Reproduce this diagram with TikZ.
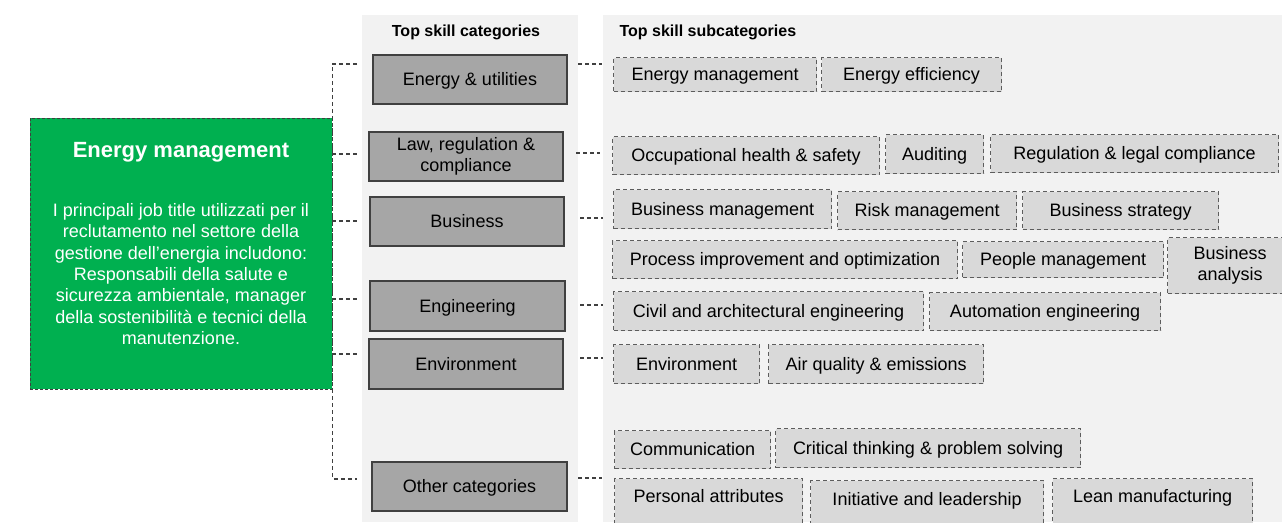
\documentclass[tikz,border=0pt]{standalone}
\usepackage{fontspec}
\setmainfont{Liberation Sans}
\usetikzlibrary{positioning}

\definecolor{panelgray}{HTML}{F2F2F2}
\definecolor{catgray}{HTML}{A6A6A6}
\definecolor{subgray}{HTML}{D9D9D9}
\definecolor{linegray}{HTML}{404040}
\definecolor{emgreen}{HTML}{00B050}

\tikzset{
  panel/.style={fill=panelgray,draw=none},
  catbox/.style={draw=linegray,line width=1.6pt,fill=catgray,align=center,
    inner sep=0pt,minimum width=194,minimum height=49,
    text height=15,text depth=3,
    font=\fontsize{18}{21}\selectfont},
  subbox/.style={draw=linegray!85,line width=1.1pt,dash pattern=on 4pt off 3pt,
    fill=subgray,align=center,inner sep=0pt,anchor=north west,
    text height=15,text depth=3,
    font=\fontsize{18}{21}\selectfont},
  conn/.style={draw=linegray,line width=1.1pt,dash pattern=on 4pt off 3pt},
  coltitle/.style={font=\fontsize{16}{19}\selectfont\bfseries},
  twolines/.style={text height=,text depth=},
}

\newcommand{\setupLinks}{
    \coordinate (l1) at (357,64);   % left side of each category
    \coordinate (l2) at (360,154);
    \coordinate (l3) at (357,221);
    \coordinate (l4) at (358,299);
    \coordinate (l5) at (358,354);
    \coordinate (l6) at (357,479);

    \coordinate (ra1) at (578,64);  % right side, towards subcategories
    \coordinate (rb1) at (602,64);
    \coordinate (ra2) at (576,153);
    \coordinate (rb2) at (600,153);
    \coordinate (ra3) at (580,218);
    \coordinate (rb3) at (603,218);
    \coordinate (ra4) at (580,305);
    \coordinate (rb4) at (603,305);
    \coordinate (ra5) at (580,358);
    \coordinate (rb5) at (603,358);
    \coordinate (ra6) at (578,478);
    \coordinate (rb6) at (602,478);
}
% name, left, top, right, bottom, text
\newcommand{\subBox}[6]{
  \node[subbox,minimum width=#4-#2,minimum height=#5-#3] (#1) at (#2,#3) {#6};
}

\begin{document}
\begin{tikzpicture}[x=1pt,y=-1pt]
    \useasboundingbox (0,0) rectangle (1282,522);
    \clip (0,0) rectangle (1282,522);
    \setupLinks;

    \fill[panel] (362,15) rectangle (578,522); % categories column
    \fill[panel] (603,15) rectangle (1282,522); % subcategories column

    \node[coltitle] (cattitle) at (466,32) {Top skill categories};
    \node[coltitle,anchor=west] (subtitle) at (616,32) {Top skill subcategories};

    % green job box
    \node[draw=linegray,fill=emgreen,line width=0.9pt,dash pattern=on 3pt off 2pt,
          minimum width=302,minimum height=271] (em) at (181,253.5) {};
    \node[text=white,font=\fontsize{22}{26}\selectfont\bfseries] (emtitle) at (181,152) {Energy management};
    \node[text=white,align=center,font=\fontsize{18}{21.4}\selectfont] (emtext) at (181,274)
      {I principali job title utilizzati per il\\
       reclutamento nel settore della\\
       gestione dell'energia includono:\\
       Responsabili della salute e\\
       sicurezza ambientale, manager\\
       della sostenibilità e tecnici della\\
       manutenzione.};

    % categories
    \node[catbox] (cat1) at (470,79.5) {Energy \& utilities};
    \node[catbox,twolines] (cat2) at (466,156.5) {Law, regulation \&\\compliance};
    \node[catbox] (cat3) at (467,221.5) {Business};
    \node[catbox,minimum width=195,minimum height=50] (cat4) at (467.5,306) {Engineering};
    \node[catbox,minimum height=50] (cat5) at (466,364) {Environment};
    \node[catbox,minimum width=195] (cat6) at (469.5,486.5) {Other categories};

    % links from the job box
    \draw[conn] (l1) -- (l1 -| em.east) -- (l6 -| em.east) -- (l6);
    \draw[conn] (l2 -| em.east) -- (l2);
    \draw[conn] (l3 -| em.east) -- (l3);
    \draw[conn] (l4 -| em.east) -- (l4);
    \draw[conn] (l5 -| em.east) -- (l5);

    % links to subcategories
    \foreach \i in {1,...,6}{
      \draw[conn] (ra\i) -- (rb\i);
    }

    % subcategories
    \subBox{s1a}{613}{57}{816}{91}{Energy management}
    \subBox{s1b}{821}{57}{1001}{91}{Energy efficiency}

    \subBox{s2a}{612}{136}{879}{174}{Occupational health \& safety}
    \subBox{s2b}{885}{134}{983}{173}{Auditing}
    \subBox{s2c}{990}{134}{1278}{172}{Regulation \& legal compliance}

    \subBox{s3a}{613}{189}{831}{228}{Business management}
    \subBox{s3b}{837}{191}{1016}{229}{Risk management}
    \subBox{s3c}{1022}{191}{1218}{229}{Business strategy}

    \subBox{s4a}{612}{240}{957}{278}{Process improvement and optimization}
    \subBox{s4b}{962}{241}{1163}{277}{People management}
    \node[subbox,twolines,minimum width=125,minimum height=56] (s4c) at (1167,237) {Business\\analysis};

    \subBox{s5a}{613}{291}{923}{330}{Civil and architectural engineering}
    \subBox{s5b}{929}{292}{1160}{330}{Automation engineering}

    \subBox{s6a}{613}{344}{759}{383}{Environment}
    \subBox{s6b}{768}{344}{983}{383}{Air quality \& emissions}

    \subBox{s7a}{614}{430}{770}{468}{Communication}
    \subBox{s7b}{775}{428}{1080}{467}{Critical thinking \& problem solving}

    % last row runs past the bottom edge
    \node[subbox,minimum width=188,inner ysep=9,text depth=40] (s8a) at (614,478) {Personal attributes};
    \node[subbox,minimum width=233,inner ysep=10,text depth=40] (s8b) at (810,480) {Initiative and leadership};
    \node[subbox,minimum width=200,inner ysep=9,text depth=40] (s8c) at (1052,478) {Lean manufacturing};
\end{tikzpicture}
\end{document}
